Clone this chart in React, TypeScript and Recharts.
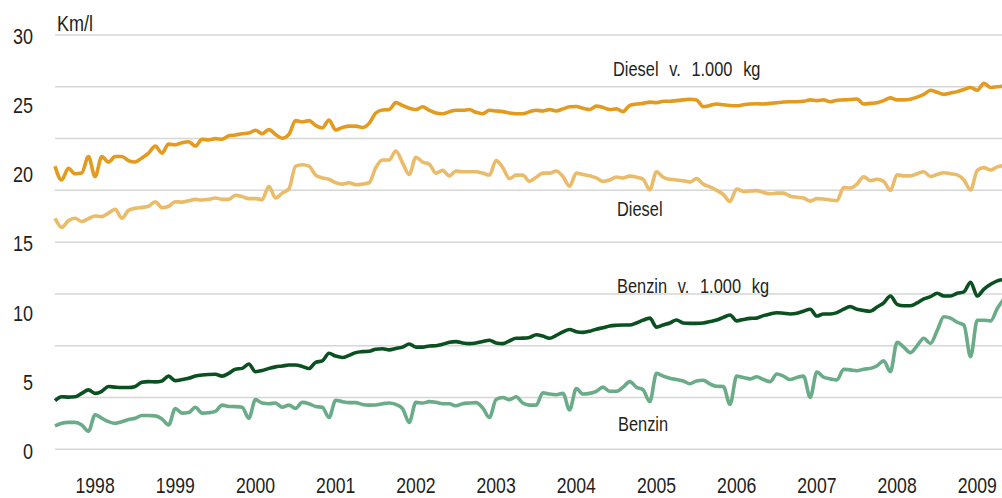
import React from 'react';
import { LineChart, Line, XAxis, YAxis, CartesianGrid } from 'recharts';

// Monthly series, first value = July 1997 (month index 0)
const START_YEAR = 1997;
const START_MONTH = 7;

const dieselPer1000kg = [
  20.5, 19.5, 20.35, 19.95, 20.0, 21.2, 19.75, 21.2, 20.8, 21.2,
  21.2, 20.9, 20.8, 21.1, 21.45, 21.95, 21.45, 22.1, 22.05, 22.2,
  22.27, 21.96, 22.45, 22.4, 22.5, 22.45, 22.7, 22.76, 22.85, 22.9,
  23.1, 22.85, 23.15, 22.8, 22.52, 22.8, 23.8, 23.7, 23.8, 23.45,
  23.27, 23.85, 23.12, 23.3, 23.4, 23.4, 23.3, 23.6, 24.35, 24.57,
  24.6, 25.1, 24.9, 24.7, 24.6, 24.8, 24.55, 24.35, 24.3, 24.45,
  24.55, 24.55, 24.6, 24.4, 24.3, 24.55, 24.5, 24.45, 24.35, 24.3,
  24.3, 24.45, 24.55, 24.5, 24.6, 24.5, 24.65, 24.8, 24.82, 24.7,
  24.6, 24.85, 24.75, 24.6, 24.65, 24.45, 24.9, 25.0, 25.05, 25.14,
  25.1, 25.2, 25.2, 25.25, 25.3, 25.35, 25.3, 24.81, 24.9, 25.0,
  24.95, 24.9, 24.88, 24.95, 25.0, 25.02, 25.0, 25.05, 25.1, 25.15,
  25.17, 25.17, 25.2, 25.3, 25.25, 25.3, 25.17, 25.28, 25.3, 25.33,
  25.37, 25.0, 25.05, 25.1, 25.25, 25.45, 25.3, 25.3, 25.35, 25.5,
  25.7, 26.0, 25.85, 25.7, 25.8, 25.9, 26.05, 26.2, 26.0, 26.5,
  26.2, 26.25, 26.3,
];

const diesel = [
  16.73, 16.07, 16.55, 16.73, 16.5, 16.7, 16.89, 16.85, 17.1, 17.38,
  16.73, 17.3, 17.45, 17.52, 17.6, 17.93, 17.5, 17.6, 17.93, 17.9,
  18.0, 18.1, 18.05, 18.1, 18.2, 18.1, 18.1, 18.4, 18.3, 18.15,
  18.15, 18.08, 19.05, 18.2, 18.55, 18.85, 20.5, 20.6, 20.5, 19.85,
  19.65, 19.55, 19.3, 19.2, 19.3, 19.16, 19.2, 19.3, 20.4, 20.95,
  20.95, 21.6, 20.75, 19.9, 21.15, 20.8, 20.65, 20.0, 20.2, 19.8,
  20.15, 20.1, 20.1, 20.1, 20.0, 19.86, 20.9, 20.4, 19.6, 19.85,
  19.85, 19.4, 19.7, 20.0, 20.0, 20.15, 19.75, 19.05, 20.0, 19.9,
  19.8, 19.65, 19.4, 19.5, 19.72, 19.65, 19.78, 19.7, 19.55, 18.8,
  20.1, 19.7, 19.55, 19.5, 19.45, 19.35, 19.6, 19.2, 19.0, 18.75,
  18.45, 17.95, 18.85, 18.68, 18.7, 18.73, 18.6, 18.5, 18.55, 18.55,
  18.33, 18.25, 18.2, 17.97, 18.15, 18.12, 18.05, 18.0, 18.95, 18.92,
  19.2, 19.74, 19.45, 19.55, 19.4, 18.75, 19.87, 19.8, 19.8, 19.95,
  20.1, 19.75, 19.9, 20.03, 19.95, 19.87, 19.5, 18.78, 20.2, 20.4,
  20.22, 20.45, 20.55,
];

const benzinPer1000kg = [
  3.52, 3.81, 3.78, 3.8, 4.05, 4.3, 4.05, 4.2, 4.55, 4.5,
  4.47, 4.47, 4.55, 4.85, 4.9, 4.88, 4.95, 5.3, 4.97, 5.05,
  5.15, 5.3, 5.38, 5.42, 5.43, 5.3, 5.5, 5.8, 5.86, 6.18,
  5.62, 5.7, 5.86, 5.97, 6.03, 6.1, 6.1, 6.0, 5.85, 6.3,
  6.4, 6.95, 6.75, 6.65, 6.8, 7.0, 7.07, 7.1, 7.25, 7.28,
  7.2, 7.3, 7.4, 7.62, 7.4, 7.4, 7.48, 7.5, 7.6, 7.75,
  7.8, 7.7, 7.65, 7.7, 7.8, 7.9, 7.7, 7.65, 7.85, 8.04,
  8.05, 8.1, 8.3, 8.2, 8.04, 8.25, 8.5, 8.68, 8.52, 8.47,
  8.55, 8.7, 8.8, 8.93, 8.98, 9.0, 9.0, 9.15, 9.35, 9.5,
  8.85, 9.0, 9.15, 9.36, 9.15, 9.12, 9.12, 9.15, 9.25, 9.36,
  9.55, 9.72, 9.3, 9.4, 9.48, 9.5, 9.68, 9.8, 9.89, 9.85,
  9.8, 9.85, 10.0, 10.14, 9.65, 9.8, 9.8, 9.9, 10.15, 10.33,
  10.14, 10.05, 10.0, 10.3, 10.6, 11.1, 10.5, 10.4, 10.4, 10.6,
  10.9, 11.05, 11.3, 11.1, 11.1, 11.3, 11.4, 12.1, 11.1, 11.6,
  11.95, 12.2, 12.3,
];

const benzin = [
  1.69, 1.88, 1.95, 1.95, 1.76, 1.3, 2.5, 2.25, 2.0, 1.88,
  2.0, 2.15, 2.25, 2.45, 2.45, 2.42, 2.2, 1.76, 2.95, 2.62,
  2.66, 3.04, 2.62, 2.65, 2.75, 3.2, 3.1, 3.09, 3.05, 2.25,
  3.6, 3.35, 3.3, 3.35, 3.05, 3.2, 2.97, 3.4, 3.3, 3.1,
  3.05, 2.3, 3.55, 3.45, 3.38, 3.38, 3.25, 3.2, 3.21, 3.3,
  3.35, 3.25, 2.95, 1.95, 3.4, 3.35, 3.45, 3.4, 3.3, 3.3,
  3.15, 3.3, 3.35, 3.38, 3.0, 2.3, 3.6, 3.75, 3.6, 3.8,
  3.35, 3.2, 3.2, 4.1, 4.0, 3.95, 4.05, 2.85, 4.4, 4.0,
  4.05, 4.2, 4.5, 4.2, 4.2, 4.5, 4.9, 4.5, 4.3, 3.45,
  5.5, 5.3, 5.15, 5.05, 4.95, 4.75, 4.95, 5.0, 4.73, 4.56,
  4.55, 3.25, 5.3, 5.2, 5.1, 5.25, 5.05, 4.9, 5.45, 5.3,
  5.05, 5.2, 5.3, 3.76, 5.6, 5.22, 5.1, 5.02, 5.8, 5.75,
  5.69, 5.8, 5.86, 6.05, 6.4, 5.62, 7.75, 7.4, 7.0, 7.5,
  8.04, 7.67, 8.6, 9.6, 9.5, 9.2, 9.0, 6.7, 9.35, 9.35,
  9.3, 10.2, 10.9,
];

const yearLabels = ['1998', '1999', '2000', '2001', '2002', '2003', '2004', '2005', '2006', '2007', '2008', '2009'];
const yTicks = [0, 5, 10, 15, 20, 25, 30];
const gridValues = [0, 3.75, 7.5, 11.25, 15, 18.75, 22.5, 26.25, 30];

const seriesLabels = [
  { text: 'Diesel v. 1.000 kg', x: 613, y: 76 },
  { text: 'Diesel', x: 617, y: 216 },
  { text: 'Benzin v. 1.000 kg', x: 617, y: 292.5 },
  { text: 'Benzin', x: 618, y: 430.5 },
];

const data = dieselPer1000kg.map((v, i) => ({
  m: i,
  dk: v,
  dl: diesel[i],
  bk: benzinPer1000kg[i],
  bl: benzin[i],
}));

const yearTickValues = yearLabels.map((y) => (Number(y) - START_YEAR) * 12 - (START_MONTH - 1));
const tickToYear: Record<number, string> = {};
yearTickValues.forEach((t, k) => { tickToYear[t] = yearLabels[k]; });

const FONT = "'Liberation Sans', Arial, sans-serif";
const SQUEEZE = 0.82;
const TEXT = '#231f20';

const NarrowText = ({ x, y, size, anchor = 'start', children, wordSpacing }: any) => (
  <g transform={`translate(${x},${y}) scale(${SQUEEZE},1)`}>
    <text x={0} y={0} textAnchor={anchor} fill={TEXT} fontSize={size} fontFamily={FONT} style={wordSpacing ? { wordSpacing } : undefined}>
      {children}
    </text>
  </g>
);

const XTick = (props: any) => {
  const { x, y, payload } = props;
  return <NarrowText x={x} y={y + 43.5} size={21.5} anchor="middle">{tickToYear[payload.value]}</NarrowText>;
};

const YTick = (props: any) => {
  const { x, y, payload } = props;
  return <NarrowText x={x} y={y + 9.3} size={22} anchor="end">{payload.value}</NarrowText>;
};

export default function App() {
  return (
    <div style={{ position: 'absolute', left: 0, top: 0, width: 1002, height: 498, overflow: 'hidden', background: '#fff' }}>
      <LineChart width={1006} height={498} data={data} margin={{ top: 35, right: 2, bottom: 8.7, left: 0 }}>
        <CartesianGrid vertical={false} horizontalValues={gridValues} stroke="#d6d6d6" strokeWidth={1.5} />
        <XAxis
          dataKey="m"
          type="number"
          domain={[0, data.length - 1]}
          ticks={yearTickValues}
          interval={0}
          height={40}
          axisLine={false}
          tickLine={false}
          tickSize={0}
          tickMargin={0}
          tick={<XTick />}
        />
        <YAxis
          domain={[0, 30]}
          ticks={yTicks}
          interval={0}
          width={55}
          axisLine={false}
          tickLine={false}
          tickSize={0}
          tickMargin={22}
          tick={<YTick />}
        />
        <Line type="monotone" dataKey="dl" stroke="#eabc6a" strokeWidth={3.6} dot={false} isAnimationActive={false} />
        <Line type="monotone" dataKey="dk" stroke="#e39a1e" strokeWidth={3.6} dot={false} isAnimationActive={false} />
        <Line type="monotone" dataKey="bl" stroke="#6aac88" strokeWidth={3.6} dot={false} isAnimationActive={false} />
        <Line type="monotone" dataKey="bk" stroke="#0a5020" strokeWidth={3.6} dot={false} isAnimationActive={false} />
      </LineChart>
      <svg width={1002} height={498} style={{ position: 'absolute', left: 0, top: 0, pointerEvents: 'none' }}>
        <NarrowText x={57} y={30.5} size={22}>Km/l</NarrowText>
        {seriesLabels.map((l) => (
          <NarrowText key={l.text} x={l.x} y={l.y} size={20} wordSpacing="7.5px">{l.text}</NarrowText>
        ))}
      </svg>
    </div>
  );
}
